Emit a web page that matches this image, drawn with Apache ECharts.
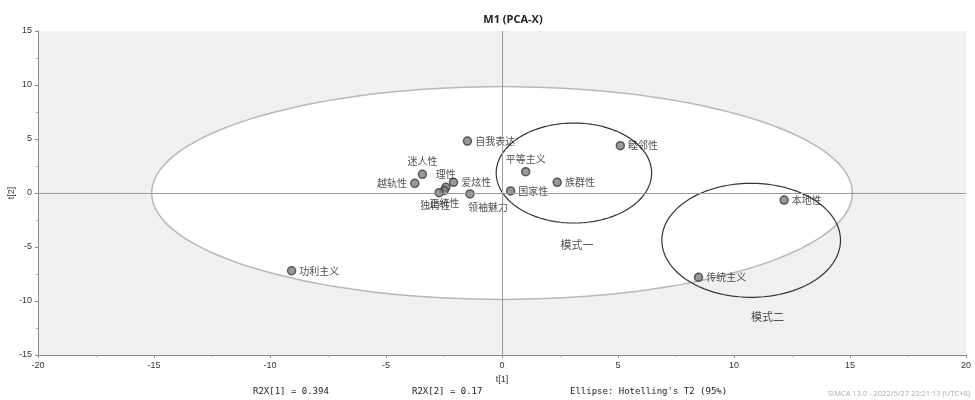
<!DOCTYPE html>
<html>
<head>
<meta charset="utf-8">
<script src="https://cdn.jsdelivr.net/npm/echarts@6/dist/echarts.min.js"></script>
<style>html,body{margin:0;padding:0;background:#fff}#c{width:975px;height:400px}</style>
</head>
<body>
<div id="c"></div>
<script>
// ---- data ----
const pointNames = ['自我表达','迷人性','越轨性','理性','爱炫性','正统性','独特性','领袖魅力','国家性','平等主义','族群性','睦邻性','本地性','传统主义','功利主义'];
const pointX = [-1.49,-3.43,-3.76,-2.42,-2.09,-2.49,-2.71,-1.38,0.37,1.02,2.38,5.10,12.16,8.47,-9.07];
const pointY = [4.81,1.73,0.90,0.53,0.99,0.23,0.03,-0.09,0.19,1.97,0.99,4.38,-0.65,-7.80,-7.20];
const labelPos = ['right','top','left','top','right','bottom','bottom','bottomRight','right','top','right','right','right','right','right'];

// Hotelling T2 ellipse and the two mode ellipses: [cx, cy, rx, ry]
const hotelling = [0, 0, 15.1, 9.85];
const modeEllipses = [[3.1, 1.85, 3.35, 4.63], [10.74, -4.38, 3.85, 5.28]];
const modeNames = ['模式一','模式二'];
const modeLabelX = [3.23, 11.44];
const modeLabelY = [-4.8, -11.5];

const xTicks = {min:-20, max:20, interval:5};
const yTicks = {min:-15, max:15, interval:5};

const chart = echarts.init(document.getElementById('c'));
const FONT = '"Noto Sans CJK SC","Noto Sans",sans-serif';

function ellipseItem(e, style) {
  return function (params, api) {
    const pts = [];
    for (let i = 0; i <= 180; i++) {
      const t = i / 180 * Math.PI * 2;
      pts.push(api.coord([e[0] + e[2] * Math.cos(t), e[1] + e[3] * Math.sin(t)]));
    }
    return { type: 'polygon', shape: { points: pts }, style: style, silent: true };
  };
}

const pts = pointNames.map((n, i) => {
  let pos = labelPos[i], off = [0, 0];
  if (pos === 'bottomRight') { pos = 'bottom'; off = [18, 0]; }
  if (pointNames[i] === '独特性') off = [-4, 0];
  return { name: n, value: [pointX[i], pointY[i]], label: { position: pos, offset: off } };
});

chart.setOption({
  animation: false,
  title: { text: 'M1 (PCA-X)', left: 508, top: 9, textAlign: 'center',
    textStyle: { fontSize: 11, fontWeight: 'bold', color: '#222', fontFamily: '"Open Sans",sans-serif' } },
  grid: { left: 38, right: 9, top: 31, bottom: 45, show: true, backgroundColor: '#f0f0f0', borderWidth: 0,
    containLabel: false, outerBoundsMode: 'none' },
  xAxis: {
    type: 'value', min: xTicks.min, max: xTicks.max, interval: xTicks.interval,
    name: 't[1]', nameLocation: 'middle', nameGap: 20,
    nameTextStyle: { fontSize: 9, color: '#333' },
    axisLine: { onZero: false, lineStyle: { color: '#888' } },
    axisTick: { show: true, length: 3, lineStyle: { color: '#888' } },
    minorTick: { show: true, splitNumber: 2, length: 2, lineStyle: { color: '#aaa' } },
    axisLabel: { fontSize: 9, color: '#333', margin: 6 },
    splitLine: { show: false }
  },
  yAxis: {
    type: 'value', min: yTicks.min, max: yTicks.max, interval: yTicks.interval,
    axisLine: { onZero: false, lineStyle: { color: '#888' } },
    axisTick: { show: true, length: 3, lineStyle: { color: '#888' } },
    minorTick: { show: true, splitNumber: 2, length: 2, lineStyle: { color: '#aaa' } },
    axisLabel: { fontSize: 9, color: '#333', margin: 6 },
    splitLine: { show: false }
  },
  series: [
    { type: 'custom', z: 1, data: [0], renderItem: ellipseItem(hotelling, { fill: '#ffffff', stroke: '#b8b8b8', lineWidth: 1.5 }) },
    { type: 'scatter', z: 2, data: [], silent: true,
      markLine: { silent: true, symbol: 'none', label: { show: false },
        lineStyle: { color: '#9a9a9a', type: 'solid', width: 1 },
        data: [{ xAxis: 0 }, { yAxis: 0 }] } },
    { type: 'custom', z: 3, data: [0], renderItem: ellipseItem(modeEllipses[0], { fill: 'none', stroke: '#333', lineWidth: 1.2 }) },
    { type: 'custom', z: 3, data: [0], renderItem: ellipseItem(modeEllipses[1], { fill: 'none', stroke: '#333', lineWidth: 1.2 }) },
    { type: 'scatter', z: 4, symbol: 'circle', symbolSize: 8,
      itemStyle: { color: '#808080', borderColor: '#3a3a3a', borderWidth: 1.5 },
      label: { show: true, formatter: '{b}', fontSize: 10, color: '#222', fontFamily: FONT, distance: 3 },
      data: pts },
    { type: 'scatter', z: 4, symbolSize: 0,
      label: { show: true, position: 'inside', formatter: '{b}', fontSize: 11, color: '#222', fontFamily: FONT },
      data: modeNames.map((n, i) => ({ name: n, value: [modeLabelX[i], modeLabelY[i]] })) }
  ],
  graphic: [
    { type: 'text', x: 12, y: 193, rotation: Math.PI / 2, style: { text: 't[2]', fontSize: 9, fill: '#333', align: 'center', verticalAlign: 'middle' } },
    { type: 'text', left: 253, top: 387, style: { text: 'R2X[1] = 0.394', fontSize: 9, fill: '#222', fontFamily: '"DejaVu Sans Mono",monospace' } },
    { type: 'text', left: 412, top: 387, style: { text: 'R2X[2] = 0.17', fontSize: 9, fill: '#222', fontFamily: '"DejaVu Sans Mono",monospace' } },
    { type: 'text', left: 570, top: 387, style: { text: "Ellipse: Hotelling's T2 (95%)", fontSize: 9, fill: '#222', fontFamily: '"DejaVu Sans Mono",monospace' } },
    { type: 'text', left: 828, top: 390, style: { text: 'SIMCA 13.0 - 2022/5/27 23:21:13 (UTC+8)', fontSize: 7.5, fill: '#aaa', fontFamily: '"Open Sans",sans-serif' } }
  ]
});
</script>
</body>
</html>
